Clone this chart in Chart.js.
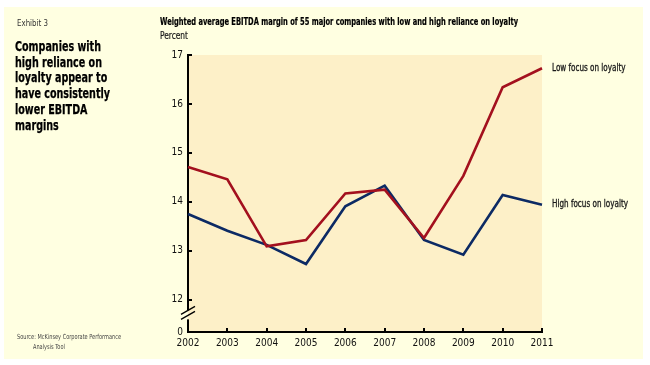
<!DOCTYPE html>
<html>
<head>
<meta charset="utf-8">
<script src="https://cdn.jsdelivr.net/npm/chart.js@4/dist/chart.umd.min.js"></script>
<style>
  html, body { margin: 0; padding: 0; background: #fff; }
  canvas { display: block; }
</style>
</head>
<body>
<canvas id="chart" width="650" height="365"></canvas>
<script>
// chart data
const years = ['2002', '2003', '2004', '2005', '2006', '2007', '2008', '2009', '2010', '2011'];
const lowFocus = [14.71, 14.46, 13.09, 13.22, 14.17, 14.25, 13.26, 14.53, 16.34, 16.73];
const highFocus = [13.75, 13.41, 13.12, 12.73, 13.91, 14.33, 13.22, 12.92, 14.14, 13.94];
const seriesNames = ['Low focus on loyalty', 'High focus on loyalty'];
const yTicks = [12, 13, 14, 15, 16, 17];
const breakValue = 11.34;   // where the axis "0" sits below the break
const breakLabel = '0';

const exhibit = 'Exhibit 3';
const headline = ['Companies with', 'high reliance on', 'loyalty appear to',
                  'have consistently', 'lower EBITDA', 'margins'];
const chartTitle = 'Weighted average EBITDA margin of 55 major companies with low and high reliance on loyalty';
const unitLabel = 'Percent';
const source = ['Source: McKinsey Corporate Performance', 'Analysis Tool'];

const NARROW = "'Liberation Sans Narrow', 'DejaVu Sans Condensed', sans-serif";
const OUTER_BG = '#ffffe1';
const PLOT_BG = '#fdf0c8';
const RED = '#a3101e';
const BLUE = '#0c2a64';

// the reference uses a very condensed face, so squeeze text horizontally
function squeezed(ctx, text, x, y, sx, heavy) {
    ctx.save();
    ctx.translate(x, y);
    ctx.scale(sx, 1);
    ctx.fillText(text, 0, 0);
    if (heavy) {
        ctx.lineWidth = heavy;
        ctx.strokeStyle = ctx.fillStyle;
        ctx.strokeText(text, 0, 0);
    }
    ctx.restore();
}
function fitWidth(ctx, text, width) {
    return Math.min(1, width / ctx.measureText(text).width);
}

const backgrounds = {
    id: 'backgrounds',
    beforeDraw(chart) {
        const ctx = chart.ctx;
        const a = chart.chartArea;
        ctx.save();
        ctx.fillStyle = '#ffffff';
        ctx.fillRect(0, 0, chart.width, chart.height);
        ctx.fillStyle = OUTER_BG;
        ctx.fillRect(4, 7, 639, 352);
        ctx.fillStyle = PLOT_BG;
        ctx.fillRect(a.left, a.top, a.right - a.left, a.bottom - a.top);
        ctx.restore();
    }
};

// series names next to the last point of each line
const endLabels = {
    id: 'endLabels',
    afterDatasetsDraw(chart) {
        const ctx = chart.ctx;
        ctx.save();
        ctx.font = '10px ' + NARROW;
        ctx.fillStyle = '#1a1a1a';
        ctx.textBaseline = 'middle';
        const sx = fitWidth(ctx, seriesNames[1], 76);
        chart.data.datasets.forEach((ds, i) => {
            const pts = chart.getDatasetMeta(i).data;
            const p = pts[pts.length - 1];
            squeezed(ctx, seriesNames[i], p.x + 10, p.y, sx, 0.3);
        });
        ctx.restore();
    }
};

// inward ticks, axis break, and all the surrounding text
const decorations = {
    id: 'decorations',
    afterDraw(chart) {
        const ctx = chart.ctx;
        const a = chart.chartArea;
        const xs = chart.scales.x, ys = chart.scales.y;
        ctx.save();

        // inward tick marks
        ctx.strokeStyle = '#000';
        ctx.lineWidth = 2;
        ctx.beginPath();
        yTicks.forEach(v => {
            const y = Math.round(ys.getPixelForValue(v));
            ctx.moveTo(a.left, y);
            ctx.lineTo(a.left + 4, y);
        });
        years.forEach((_, i) => {
            const x = Math.round(xs.getPixelForValue(i));
            ctx.moveTo(x, a.bottom);
            ctx.lineTo(x, a.bottom - 4);
        });
        ctx.stroke();

        // axis break
        const by = ys.getPixelForValue(11.68);
        ctx.fillStyle = OUTER_BG;
        ctx.fillRect(a.left - 2, by - 5, 2, 9);
        ctx.fillStyle = PLOT_BG;
        ctx.fillRect(a.left, by - 5, 2, 9);
        ctx.lineWidth = 1.3;
        ctx.beginPath();
        ctx.moveTo(a.left - 7, by - 1);
        ctx.lineTo(a.left + 7, by - 9);
        ctx.moveTo(a.left - 7, by + 4);
        ctx.lineTo(a.left + 7, by - 4);
        ctx.stroke();

        // left column
        ctx.textBaseline = 'alphabetic';
        ctx.fillStyle = '#333';
        ctx.font = '9.5px ' + NARROW;
        squeezed(ctx, exhibit, 17, 26, fitWidth(ctx, exhibit, 31));

        ctx.fillStyle = '#000';
        ctx.font = 'bold 14px ' + NARROW;
        const hx = fitWidth(ctx, headline[3], 95);
        headline.forEach((t, i) => squeezed(ctx, t, 15, 51 + i * 15.7, hx, 0.25));

        ctx.fillStyle = '#444';
        ctx.font = '7px ' + NARROW;
        const sx = fitWidth(ctx, source[0], 104);
        squeezed(ctx, source[0], 17, 339, sx);
        squeezed(ctx, source[1], 33, 349, sx);

        // chart title
        ctx.fillStyle = '#000';
        ctx.font = 'bold 10px ' + NARROW;
        squeezed(ctx, chartTitle, 160, 25, fitWidth(ctx, chartTitle, 358), 0.2);
        ctx.fillStyle = '#1a1a1a';
        ctx.font = '10px ' + NARROW;
        squeezed(ctx, unitLabel, 160, 39, fitWidth(ctx, unitLabel, 28), 0.2);

        ctx.restore();
    }
};

new Chart(document.getElementById('chart').getContext('2d'), {
    type: 'line',
    data: {
        labels: years,
        datasets: [
            { label: seriesNames[0], data: lowFocus, borderColor: RED, borderWidth: 2.6, pointRadius: 0, tension: 0 },
            { label: seriesNames[1], data: highFocus, borderColor: BLUE, borderWidth: 2.6, pointRadius: 0, tension: 0 }
        ]
    },
    options: {
        responsive: false,
        animation: false,
        layout: { padding: { left: 150, right: 108, top: 55, bottom: 0 } },
        plugins: { legend: { display: false }, tooltip: { enabled: false } },
        scales: {
            x: {
                offset: false,
                grid: { drawOnChartArea: false, drawTicks: false },
                border: { display: true, color: '#000', width: 2 },
                ticks: { color: '#111', padding: 5, maxRotation: 0, font: { family: NARROW, size: 10 } },
                afterFit(s) { s.height = 33; }
            },
            y: {
                min: breakValue,
                max: 17,
                afterBuildTicks(s) {
                    s.ticks = [breakValue, ...yTicks].map(v => ({ value: v }));
                },
                grid: { drawOnChartArea: false, drawTicks: false },
                border: { display: true, color: '#000', width: 2 },
                ticks: {
                    color: '#111',
                    padding: 5,
                    font: { family: NARROW, size: 10 },
                    callback: v => (v < yTicks[0] ? breakLabel : v)
                },
                afterFit(s) { s.width = 38; }
            }
        }
    },
    plugins: [backgrounds, endLabels, decorations]
});
</script>
</body>
</html>
